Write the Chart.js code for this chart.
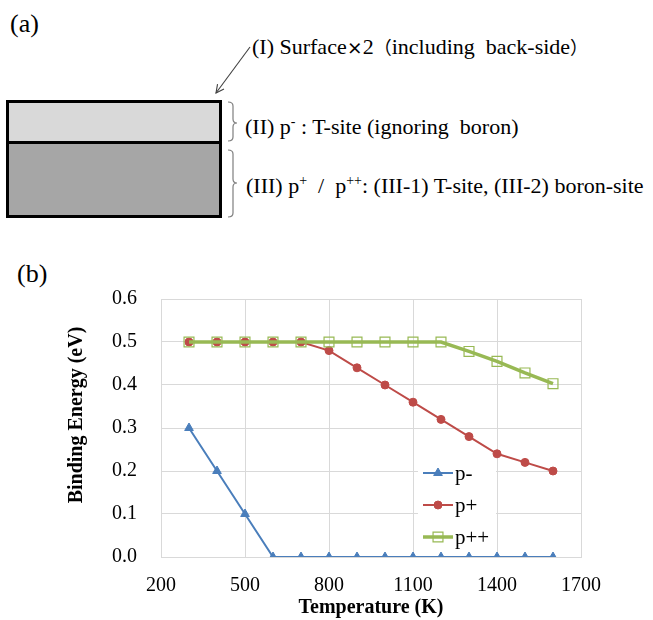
<!DOCTYPE html>
<html>
<head>
<meta charset="utf-8">
<script src="https://cdn.jsdelivr.net/npm/chart.js@4/dist/chart.umd.min.js"></script>
<style>
  html, body { margin: 0; padding: 0; background: #fff; }
  body { width: 653px; height: 620px; position: relative; overflow: hidden;
         font-family: "Liberation Serif", "DejaVu Serif", serif; color: #000; }
  .tag { position: absolute; font-size: 26px; line-height: 26px; }
  .note { position: absolute; font-size: 22px; line-height: 22px; white-space: nowrap; }
  .note sup { font-size: 14px; vertical-align: 8px; line-height: 0; }
  .cjk { font-family: "Noto Sans CJK JP", sans-serif; font-size: 18px; }
  .times { font-family: "Noto Sans CJK JP", sans-serif; font-weight: bold; font-size: 16px; }
  #slab { position: absolute; left: 6px; top: 100px; width: 210px; height: 112px;
          border: 3px solid #000; background: #a6a6a6; }
  #slab .top { position: absolute; left: 0; top: 0; width: 210px; height: 38px;
               background: #d9d9d9; border-bottom: 3px solid #000; }
  #marks { position: absolute; left: 0; top: 0; }
  #chartBox { position: absolute; left: 0; top: 280px; width: 653px; height: 340px; }
</style>
</head>
<body>
  <!-- (a) layer structure -->
  <div class="tag" style="left:10px; top:11px;">(a)</div>
  <div id="slab"><div class="top"></div></div>
  <svg id="marks" width="653" height="240">
    <defs>
      <marker id="head" markerWidth="10" markerHeight="10" refX="9" refY="5" orient="auto" markerUnits="userSpaceOnUse">
        <path d="M1,1 L9,5 L1,9" fill="none" stroke="#404040" stroke-width="1.1"/>
      </marker>
    </defs>
    <line x1="250" y1="47" x2="216" y2="93" stroke="#404040" stroke-width="1.1" marker-end="url(#head)"/>
    <path d="M228,102 Q233,102 233,106 L233,119 Q233,123 237,123 Q233,123 233,127 L233,137 Q233,141 228,141"
          fill="none" stroke="#7f7f7f" stroke-width="1.2"/>
    <path d="M228,150 Q233,150 233,154 L233,179 Q233,183 237,183 Q233,183 233,187 L233,213 Q233,217 228,217"
          fill="none" stroke="#7f7f7f" stroke-width="1.2"/>
  </svg>
  <div class="note" style="left:252px; top:35px;">(I) Surface<span class="times">×</span>2<span class="cjk">（</span>including&nbsp; back-side<span class="cjk">）</span></div>
  <div class="note" style="left:245px; top:116px;">(II) p<sup>-</sup> : T-site (ignoring&nbsp; boron)</div>
  <div class="note" style="left:246px; top:175px;">(III) p<sup>+</sup>&nbsp; /&nbsp; p<sup>++</sup>: (III-1) T-site, (III-2) boron-site</div>

  <!-- (b) binding energy vs temperature -->
  <div class="tag" style="left:17px; top:261px;">(b)</div>
  <div id="chartBox"><canvas id="chart" width="653" height="340"></canvas></div>

<script>
// Temperatures (K) at which binding energies were evaluated
const temperatures = [300, 400, 500, 600, 700, 800, 900, 1000, 1100, 1200, 1300, 1400, 1500, 1600];

// Binding energy (eV) per doping level
const pMinus    = [0.30, 0.20, 0.10, 0.00, 0.00, 0.00, 0.00, 0.00, 0.00, 0.00, 0.00, 0.00, 0.00, 0.00];
const pPlus     = [0.50, 0.50, 0.50, 0.50, 0.50, 0.48, 0.44, 0.40, 0.36, 0.32, 0.28, 0.24, 0.22, 0.20];
const pPlusPlus = [0.50, 0.50, 0.50, 0.50, 0.50, 0.50, 0.50, 0.50, 0.50, 0.50, 0.478, 0.455, 0.428, 0.403];

const seriesLabels = ['p-', 'p+', 'p++'];

// Axis ticks and captions
const xTicks = [200, 500, 800, 1100, 1400, 1700];
const yTicks = [0.0, 0.1, 0.2, 0.3, 0.4, 0.5, 0.6];
const xCaption = 'Temperature (K)';
const yCaption = 'Binding Energy (eV)';

const toPoints = vals => temperatures.map((t, i) => ({ x: t, y: vals[i] }));

const SERIF = '"Liberation Serif", "DejaVu Serif", serif';
const GRID = '#d9d9d9';

// Vertical caption for the value axis, set slightly above the plot's middle
const yAxisCaption = {
  id: 'yAxisCaption',
  afterDraw(chart, args, opts) {
    const { ctx, chartArea } = chart;
    ctx.save();
    ctx.translate(chartArea.left - opts.distance, (chartArea.top + chartArea.bottom) / 2 - opts.lift);
    ctx.rotate(-Math.PI / 2);
    ctx.font = 'bold 20px ' + SERIF;
    ctx.fillStyle = '#000';
    ctx.textAlign = 'center';
    ctx.textBaseline = 'middle';
    ctx.fillText(opts.text, 0, 0);
    ctx.restore();
  }
};

// Legend drawn inside the plot area, to the right of the p- curve
const insideLegend = {
  id: 'insideLegend',
  afterDatasetsDraw(chart, args, opts) {
    const { ctx, chartArea } = chart;
    const x0 = chartArea.left + opts.offsetX;
    const y0 = chartArea.top + opts.offsetY;
    ctx.save();
    ctx.fillStyle = '#fff';
    ctx.fillRect(x0 - 5, y0 - 14, 78, 89);
    chart.data.datasets.forEach((ds, i) => {
      const y = y0 + i * opts.spacing;
      const cx = x0 + opts.lineLength / 2;
      ctx.strokeStyle = ds.borderColor;
      ctx.lineWidth = ds.borderWidth;
      ctx.beginPath();
      ctx.moveTo(x0, y);
      ctx.lineTo(x0 + opts.lineLength, y);
      ctx.stroke();
      const r = ds.pointRadius;
      ctx.fillStyle = ds.pointBackgroundColor;
      ctx.strokeStyle = ds.pointBorderColor;
      ctx.lineWidth = ds.pointBorderWidth;
      ctx.beginPath();
      if (ds.pointStyle === 'triangle') {
        ctx.moveTo(cx, y - r);
        ctx.lineTo(cx + r * 0.87, y + r * 0.5);
        ctx.lineTo(cx - r * 0.87, y + r * 0.5);
        ctx.closePath();
      } else if (ds.pointStyle === 'rect') {
        const s = Math.SQRT1_2 * r;
        ctx.rect(cx - s, y - s, 2 * s, 2 * s);
      } else {
        ctx.arc(cx, y, r, 0, Math.PI * 2);
      }
      ctx.fill();
      ctx.stroke();
      ctx.fillStyle = '#000';
      ctx.font = '21px ' + SERIF;
      ctx.textBaseline = 'middle';
      ctx.textAlign = 'left';
      ctx.fillText(ds.label, x0 + opts.lineLength + 2, y + 1);
    });
    ctx.restore();
  }
};

new Chart(document.getElementById('chart'), {
  type: 'line',
  data: {
    datasets: [
      {
        label: seriesLabels[0],
        data: toPoints(pMinus),
        borderColor: '#4a7ebb', backgroundColor: '#4a7ebb',
        borderWidth: 2,
        pointStyle: 'triangle', pointRadius: 5,
        pointBackgroundColor: '#4a7ebb', pointBorderColor: '#4a7ebb', pointBorderWidth: 1,
        order: 0
      },
      {
        label: seriesLabels[1],
        data: toPoints(pPlus),
        borderColor: '#be4b48', backgroundColor: '#be4b48',
        borderWidth: 2,
        pointStyle: 'circle', pointRadius: 4,
        pointBackgroundColor: '#be4b48', pointBorderColor: '#be4b48', pointBorderWidth: 1,
        order: 2
      },
      {
        label: seriesLabels[2],
        data: toPoints(pPlusPlus),
        borderColor: '#98b954', backgroundColor: '#98b954',
        borderWidth: 3.5,
        pointStyle: 'rect', pointRadius: 7,
        pointBackgroundColor: 'rgba(255,255,255,0)', pointBorderColor: '#98b954', pointBorderWidth: 1.2,
        order: 1
      }
    ]
  },
  options: {
    responsive: false,
    animation: false,
    devicePixelRatio: 1,
    layout: { padding: { left: 60, right: 72, top: 19, bottom: 0 } },
    plugins: {
      legend: { display: false },
      tooltip: { enabled: false },
      insideLegend: { offsetX: 262, offsetY: 174, spacing: 32, lineLength: 30 },
      yAxisCaption: { text: yCaption, distance: 84, lift: 13 }
    },
    scales: {
      x: {
        type: 'linear',
        min: xTicks[0], max: xTicks[xTicks.length - 1],
        afterBuildTicks: s => { s.ticks = xTicks.map(v => ({ value: v })); },
        afterFit: s => { s.height = 63; },
        ticks: { color: '#000', font: { family: SERIF, size: 20 }, padding: 17, maxRotation: 0,
                 callback: v => String(v) },
        grid: { color: GRID, lineWidth: 1, drawTicks: false },
        border: { color: GRID },
        title: { display: true, text: xCaption, color: '#000',
                 font: { family: SERIF, size: 20, weight: 'bold' }, padding: { top: 0, bottom: 0 } }
      },
      y: {
        min: yTicks[0], max: yTicks[yTicks.length - 1],
        afterBuildTicks: s => { s.ticks = yTicks.map(v => ({ value: v })); },
        afterFit: s => { s.width = 101; s.paddingTop = 0; s.paddingBottom = 0; },
        ticks: { color: '#000', font: { family: SERIF, size: 20 }, padding: 24,
                 callback: v => v.toFixed(1) },
        grid: { color: GRID, lineWidth: 1, drawTicks: false },
        border: { color: GRID },
        title: { display: false }
      }
    }
  },
  plugins: [insideLegend, yAxisCaption]
});
</script>
</body>
</html>
